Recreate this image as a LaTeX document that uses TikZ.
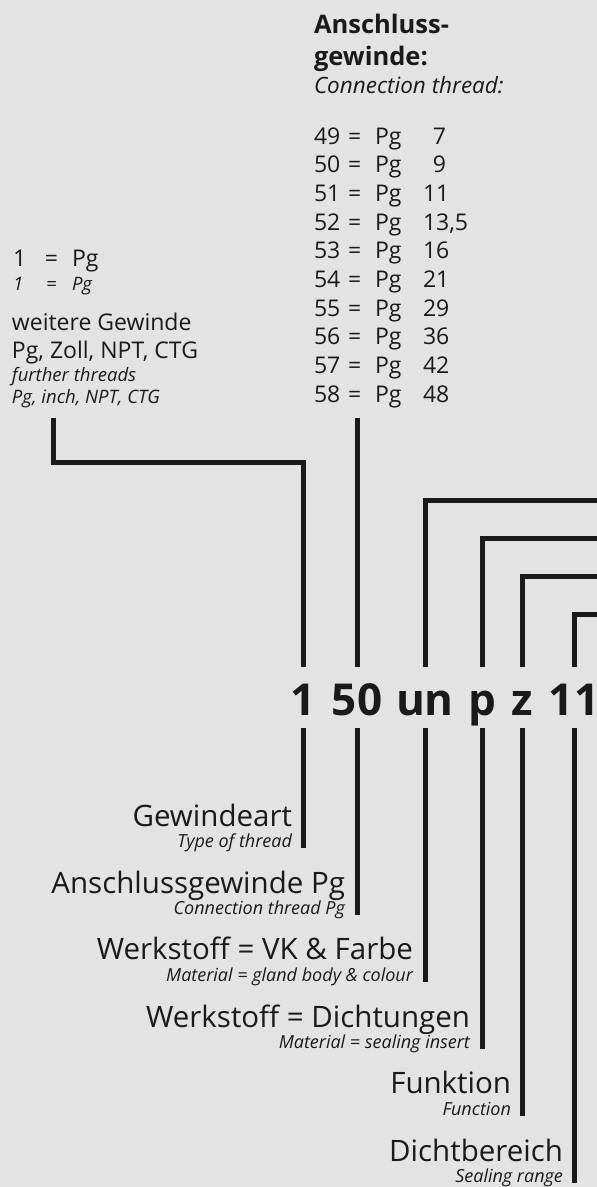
\documentclass[tikz,border=0pt]{standalone}
\usepackage{fontspec}
\setmainfont{Open Sans}
\definecolor{bg}{HTML}{E3E3E3}
\definecolor{ink}{HTML}{1A1A1A}
\tikzset{
  conn/.style={line width=5pt, draw=ink, line cap=butt, line join=miter},
  txt/.style={inner sep=0pt, outer sep=0pt, text=ink, anchor=base west},
  reg/.style={txt, font=\fontsize{23}{27}\selectfont},
  regit/.style={txt, font=\fontsize{18.5}{22}\selectfont\itshape},
  headb/.style={txt, font=\fontsize{25.5}{30}\selectfont\bfseries},
  headit/.style={txt, font=\fontsize{22.5}{26}\selectfont\itshape},
  code/.style={inner sep=0pt, outer sep=0pt, text=ink, anchor=base, font=\fontsize{44}{50}\selectfont\bfseries},
  lab/.style={inner sep=0pt, outer sep=0pt, text=ink, anchor=base east, font=\fontsize{29.5}{33}\selectfont},
  labit/.style={inner sep=0pt, outer sep=0pt, text=ink, anchor=base east, font=\fontsize{18}{22}\selectfont\itshape},
}
\begin{document}
\begin{tikzpicture}[x=1pt,y=-1pt]
\fill[bg] (0,0) rectangle (597,1187);
\useasboundingbox (0,0) rectangle (597,1187);

% top heading
\node[headb] (h1) at (314,33) {Anschluss-};
\node[headb] (h2) at (314,65) {gewinde:};
\node[headit] (h3) at (314,93) {Connection thread:};

% list
\foreach \n/\v/\r [count=\i from 0] in {49/7/1,50/9/1,51/11/0,52/{13,5}/0,53/16/0,54/21/0,55/29/0,56/36/0,57/42/0,58/48/0}{
  \pgfmathsetmacro{\yy}{144+28.67*\i}
  \node[reg] (n\n) at (314,\yy) {\n};
  \node[reg] (e\n) at (348,\yy) {=};
  \node[reg] (p\n) at (375,\yy) {Pg};
  \ifnum\r=1
    \node[reg, anchor=base east] (v\n) at (446,\yy) {\v};
  \else
    \node[reg] (v\n) at (423,\yy) {\v};
  \fi
}

% left block
\node[reg] (a1) at (13,266) {1};
\node[reg] (a2) at (45,266) {=};
\node[reg] (a3) at (72,266) {Pg};
\node[regit] (b1) at (13,290) {1};
\node[regit] (b2) at (46,290) {=};
\node[regit] (b3) at (72,290) {Pg};
\node[reg] (w1) at (12,330) {weitere Gewinde};
\node[reg] (w2) at (12,358) {Pg, Zoll, NPT, CTG};
\node[regit] (w3) at (12,381) {further threads};
\node[regit] (w4) at (12,403) {Pg, inch, NPT, CTG};

% code
\node[code] (c1) at (303,715) {1};
\node[code] (c50) at (357,715) {50};
\node[code] (cun) at (425,715) {un};
\node[code] (cp) at (482,715) {p};
\node[code] (cz) at (522,715) {z};
\node[code] (c11) at (574,715) {11};

% bottom labels
\node[lab] (g1) at (292,826) {Gewindeart};
\node[labit] (e1) at (292,847) {Type of thread};
\node[lab] (g2) at (345,893) {Anschlussgewinde Pg};
\node[labit] (e2) at (345,914) {Connection thread Pg};
\node[lab] (g3) at (413,959) {Werkstoff = VK \& Farbe};
\node[labit] (e3) at (413,981) {Material = gland body \& colour};
\node[lab] (g4) at (470,1027) {Werkstoff = Dichtungen};
\node[labit] (e4) at (470,1048) {Material = sealing insert};
\node[lab] (g5) at (511,1093) {Funktion};
\node[labit] (e5) at (511,1115) {Function};
\node[lab] (g6) at (563,1161) {Dichtbereich};
\node[labit] (e6) at (563,1182) {Sealing range};

% connector points
\coordinate (lt) at (53,418);
\coordinate (lc) at (53,462);
\coordinate (t1) at (303,667);
\coordinate (s50) at (357,418);
\coordinate (t50) at (357,667);
\coordinate (run) at (597,500);
\coordinate (tun) at (425,667);
\coordinate (rp) at (597,538);
\coordinate (tp) at (482,667);
\coordinate (rz) at (597,576);
\coordinate (tz) at (522,667);
\coordinate (r11) at (597,614);
\coordinate (t11) at (574,667);

\draw[conn] (lt) -- (lc) -| (t1);
\draw[conn] (s50) -- (t50);
\draw[conn] (run) -| (tun);
\draw[conn] (rp) -| (tp);
\draw[conn] (rz) -| (tz);
\draw[conn] (r11) -| (t11);

% lower connectors
\coordinate (u1) at (303,728);  \coordinate (d1) at (303,848);
\coordinate (u50) at (357,728); \coordinate (d50) at (357,915);
\coordinate (uun) at (425,728); \coordinate (dun) at (425,982);
\coordinate (up) at (482,728);  \coordinate (dp) at (482,1049);
\coordinate (uz) at (522,728);  \coordinate (dz) at (522,1116);
\coordinate (u11) at (574,728); \coordinate (d11) at (574,1183);
\draw[conn] (u1) -- (d1);
\draw[conn] (u50) -- (d50);
\draw[conn] (uun) -- (dun);
\draw[conn] (up) -- (dp);
\draw[conn] (uz) -- (dz);
\draw[conn] (u11) -- (d11);
\end{tikzpicture}
\end{document}
